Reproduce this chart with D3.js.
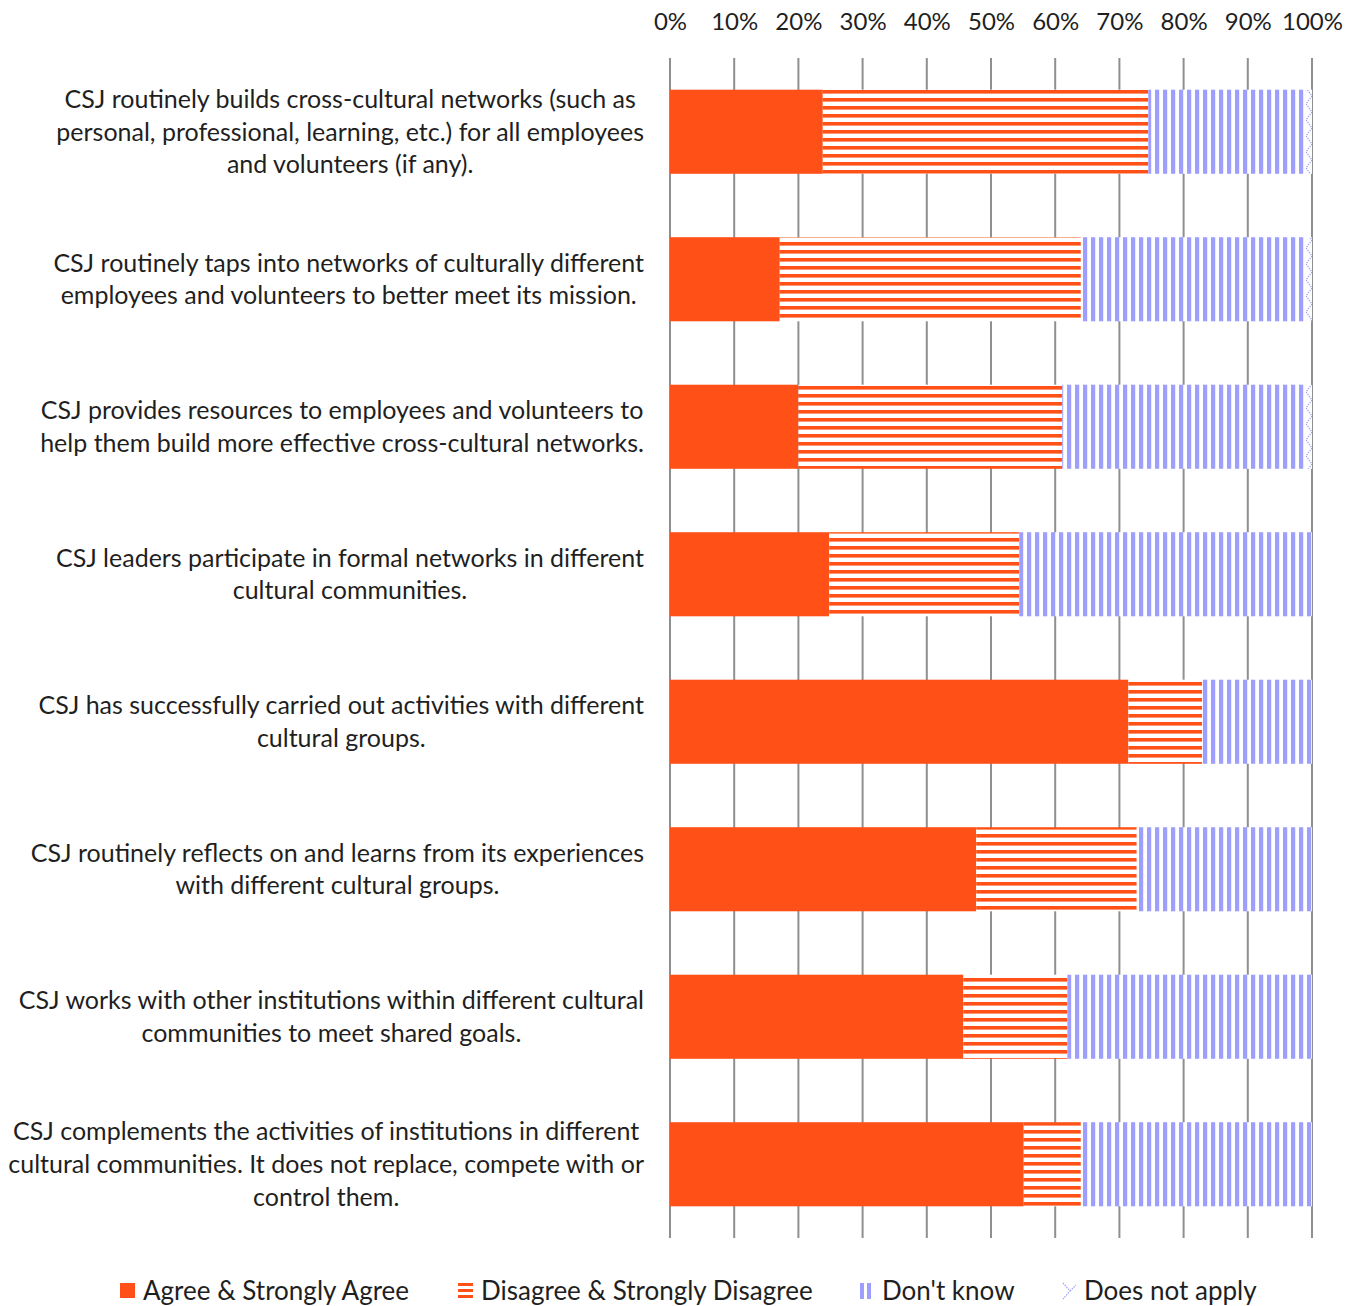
<!DOCTYPE html>
<html>
<head>
<meta charset="utf-8">
<script src="https://cdn.jsdelivr.net/npm/d3@7"></script>
<style>
  html, body { margin: 0; padding: 0; background: #ffffff; }
  svg { display: block; }
  text { font-family: Lato, "Open Sans", sans-serif; fill: #1f1f1f; }
</style>
</head>
<body>
<script>
// Survey statements (each entry is the list of wrapped lines)
const statements = [
  ["CSJ routinely builds cross-cultural networks (such as", "personal, professional, learning, etc.) for all employees", "and volunteers (if any)."],
  ["CSJ routinely taps into networks of culturally different", "employees and volunteers to better meet its mission."],
  ["CSJ provides resources to employees and volunteers to", "help them build more effective cross-cultural networks."],
  ["CSJ leaders participate in formal networks in different", "cultural communities."],
  ["CSJ has successfully carried out activities with different", "cultural groups."],
  ["CSJ routinely reflects on and learns from its experiences", "with different cultural groups."],
  ["CSJ works with other institutions within different cultural", "communities to meet shared goals."],
  ["CSJ complements the activities of institutions in different", "cultural communities. It does not replace, compete with or", "control them."]
];

const seriesNames = ["Agree & Strongly Agree", "Disagree & Strongly Disagree", "Don't know", "Does not apply"];

// Percent of responses per statement
const agree        = [23.8, 17.1, 20.0, 24.8, 71.4, 47.7, 45.7, 55.1];
const disagree     = [50.7, 46.9, 41.1, 29.6, 11.5, 25.0, 16.2,  8.9];
const dontKnow     = [24.5, 35.0, 37.9, 45.6, 17.1, 27.3, 38.1, 36.0];
const doesNotApply = [ 1.0,  1.0,  1.0,  0.0,  0.0,  0.0,  0.0,  0.0];

const tickValues = [0, 10, 20, 30, 40, 50, 60, 70, 80, 90, 100];

const W = 1359, H = 1306;
const ORANGE = "#ff5117";
const LAVENDER = "#9e9eff";

const svg = d3.select("body").append("svg")
  .attr("width", W).attr("height", H);

// Fill patterns for the series
const defs = svg.append("defs");

const pH = defs.append("pattern").attr("id", "hstripe")
  .attr("patternUnits", "userSpaceOnUse").attr("width", 8).attr("height", 8)
  .attr("y", 90);
pH.append("rect").attr("width", 8).attr("height", 8).attr("fill", "#fff");
pH.append("rect").attr("width", 8).attr("height", 3.6).attr("fill", ORANGE);

const pV = defs.append("pattern").attr("id", "vstripe")
  .attr("patternUnits", "userSpaceOnUse").attr("width", 8).attr("height", 8)
  .attr("x", 3);
pV.append("rect").attr("width", 8).attr("height", 8).attr("fill", "#fff");
pV.append("rect").attr("width", 4.2).attr("height", 8).attr("fill", LAVENDER);

const pZ = defs.append("pattern").attr("id", "zigzag")
  .attr("patternUnits", "userSpaceOnUse").attr("width", 8).attr("height", 16)
  .attr("x", 1305);
pZ.append("rect").attr("width", 8).attr("height", 16).attr("fill", "#fff");
pZ.append("path").attr("d", "M7,0 L1,8 L7,16")
  .attr("fill", "none").attr("stroke", LAVENDER).attr("stroke-width", 1.2)
  .attr("stroke-dasharray", "1.5,1");

const fills = [ORANGE, "url(#hstripe)", "url(#vstripe)", "url(#zigzag)"];

// Scales
const x = d3.scaleLinear().domain([0, 100]).range([670, 1312]);
const y = d3.scaleBand().domain(d3.range(statements.length))
  .range([58, 1238]).paddingInner(0.43).paddingOuter(0.215);

// Vertical gridlines
svg.append("g").selectAll("line").data(tickValues).join("line")
  .attr("x1", d => x(d)).attr("x2", d => x(d))
  .attr("y1", 58).attr("y2", 1238)
  .attr("stroke", "#8f8f8f").attr("stroke-width", 2);

// Top axis with percent labels
const axis = svg.append("g").attr("transform", "translate(0,58)")
  .call(d3.axisTop(x).tickValues(tickValues).tickSize(0).tickPadding(28)
    .tickFormat(d => d + "%"));
axis.select(".domain").remove();
axis.selectAll("text").attr("font-size", 24).attr("fill", "#1f1f1f")
  .style("font-family", "Lato, sans-serif");

// Stacked bars
const rows = statements.map((s, i) => ({
  i, vals: [agree[i], disagree[i], dontKnow[i], doesNotApply[i]]
}));
const stackData = rows.map(r => {
  const o = { i: r.i };
  seriesNames.forEach((k, j) => o[k] = r.vals[j]);
  return o;
});
const stacked = d3.stack().keys(seriesNames)(stackData);

svg.append("g").selectAll("g").data(stacked).join("g")
  .attr("fill", (d, j) => fills[j])
  .selectAll("rect").data(d => d).join("rect")
  .attr("x", d => x(d[0]))
  .attr("width", d => Math.max(0, x(d[1]) - x(d[0])))
  .attr("y", d => y(d.data.i))
  .attr("height", y.bandwidth());

// Category labels, centered as a block against the right edge
const LABEL_RIGHT = 644, FS = 25, LH = 32.7;
const labels = svg.append("g");
statements.forEach((lines, i) => {
  const g = labels.append("g");
  const cy = y(i) + y.bandwidth() / 2;
  const t = g.append("text").attr("font-size", FS).attr("text-anchor", "middle");
  lines.forEach((ln, k) => {
    t.append("tspan").attr("x", 0)
      .attr("y", cy + (k - (lines.length - 1) / 2) * LH)
      .attr("dy", "0.35em").text(ln);
  });
  let maxW = 0;
  t.selectAll("tspan").each(function () {
    maxW = Math.max(maxW, this.getComputedTextLength());
  });
  t.selectAll("tspan").attr("x", LABEL_RIGHT - maxW / 2);
});

// Legend
const legendItems = [
  { name: seriesNames[0], ix: 120, tx: 143 },
  { name: seriesNames[1], ix: 458, tx: 481 },
  { name: seriesNames[2], ix: 860, tx: 882 },
  { name: seriesNames[3], ix: 1062, tx: 1084 }
];
const leg = svg.append("g");
const LY = 1291;
leg.append("rect").attr("x", legendItems[0].ix).attr("y", LY - 8)
  .attr("width", 15).attr("height", 15).attr("fill", ORANGE);
[0, 6, 12].forEach(o => leg.append("rect")
  .attr("x", legendItems[1].ix).attr("y", LY - 8 + o)
  .attr("width", 15).attr("height", 3).attr("fill", ORANGE));
[0, 7].forEach(o => leg.append("rect")
  .attr("x", legendItems[2].ix + o).attr("y", LY - 8)
  .attr("width", 4).attr("height", 16).attr("fill", LAVENDER));
leg.append("path")
  .attr("d", `M${legendItems[3].ix + 1},${LY - 8} L${legendItems[3].ix + 8},${LY} L${legendItems[3].ix + 1},${LY + 8} M${legendItems[3].ix + 8},${LY} L${legendItems[3].ix + 14},${LY - 6}`)
  .attr("fill", "none").attr("stroke", LAVENDER).attr("stroke-width", 1.2)
  .attr("stroke-dasharray", "1.5,1");
leg.selectAll("text").data(legendItems).join("text")
  .attr("x", d => d.tx).attr("y", LY).attr("dy", "0.35em")
  .attr("font-size", 26).text(d => d.name);
</script>
</body>
</html>
